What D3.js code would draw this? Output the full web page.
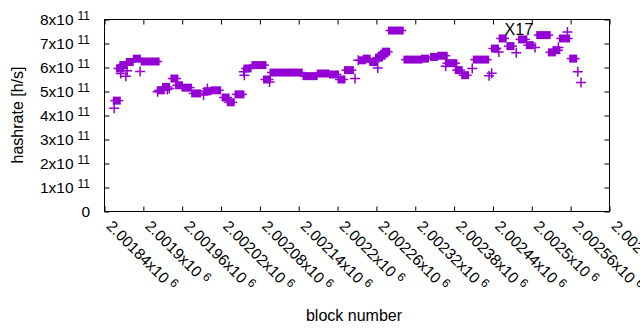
<!DOCTYPE html>
<html>
<head>
<meta charset="utf-8">
<script src="https://cdn.jsdelivr.net/npm/d3@7"></script>
<style>
  body { margin: 0; background: #fff; }
  svg { display: block; font-family: "Liberation Sans", Arial, sans-serif; }
  .axis path { display: none; }
  .axis line { stroke: #000; stroke-width: 1; }
</style>
</head>
<body>
<svg id="chart" width="640" height="330"></svg>
<script>
// --- data
// runs of blocks sharing the same hashrate estimate: [firstBlock, lastBlock, hashrate (x1e11 h/s)]
const squareRuns = [
  [2001859, 2001859, 4.62], [2001864, 2001864, 5.96], [2001869, 2001869, 6.10],
  [2001879, 2001879, 6.23], [2001890, 2001890, 6.37], [2001902, 2001919, 6.25],
  [2001927, 2001927, 5.05], [2001935, 2001935, 5.19], [2001948, 2001948, 5.54],
  [2001955, 2001955, 5.26], [2001965, 2001969, 5.16], [2001980, 2001983, 4.92],
  [2001999, 2001999, 5.01], [2002010, 2002014, 5.05], [2002027, 2002027, 4.75],
  [2002035, 2002035, 4.55], [2002047, 2002050, 4.88], [2002061, 2002061, 5.96],
  [2002073, 2002084, 6.10], [2002091, 2002091, 5.50], [2002101, 2002140, 5.79],
  [2002152, 2002163, 5.64], [2002174, 2002181, 5.75], [2002193, 2002196, 5.71],
  [2002206, 2002206, 5.50], [2002216, 2002219, 5.89], [2002238, 2002238, 6.30],
  [2002245, 2002245, 6.37], [2002255, 2002255, 6.23], [2002264, 2002264, 6.41],
  [2002268, 2002268, 6.49], [2002272, 2002272, 6.58], [2002275, 2002275, 6.66],
  [2002284, 2002296, 7.54], [2002308, 2002325, 6.33], [2002335, 2002335, 6.37],
  [2002349, 2002349, 6.44], [2002360, 2002364, 6.49], [2002372, 2002379, 6.18],
  [2002387, 2002387, 5.89], [2002397, 2002397, 5.68], [2002415, 2002428, 6.33],
  [2002443, 2002443, 6.79], [2002455, 2002455, 7.21], [2002467, 2002467, 6.89],
  [2002485, 2002487, 7.17], [2002497, 2002497, 6.93], [2002513, 2002523, 7.35],
  [2002531, 2002531, 6.63], [2002538, 2002538, 6.72], [2002548, 2002553, 7.21],
  [2002564, 2002564, 6.37]
]
// single blocks: [block, hashrate (x1e11 h/s)]
const plusPoints = [
  [2001855, 4.30], [2001865, 5.75], [2001873, 5.64], [2001875, 5.86], [2001895, 5.83],
  [2001922, 4.99], [2001937, 5.08], [2001940, 5.13], [2001993, 4.85], [2001999, 5.13],
  [2002055, 5.82], [2002056, 5.68], [2002095, 5.40], [2002227, 5.54], [2002232, 6.30],
  [2002262, 5.98], [2002367, 6.05], [2002408, 5.96], [2002434, 5.66], [2002438, 5.76],
  [2002449, 6.65], [2002476, 6.61], [2002505, 6.83], [2002541, 6.83], [2002555, 7.48],
  [2002571, 5.82], [2002576, 5.38]
]
const xTicks = [2001840, 2001900, 2001960, 2002020, 2002080, 2002140, 2002200,
                2002260, 2002320, 2002380, 2002440, 2002500, 2002560, 2002620]
const xTickLabels = ['2.00184', '2.0019', '2.00196', '2.00202', '2.00208', '2.00214', '2.0022',
                     '2.00226', '2.00232', '2.00238', '2.00244', '2.0025', '2.00256', '2.00262']
const yTicks = [0, 1, 2, 3, 4, 5, 6, 7, 8]
const annotation = {text: 'X17', block: 2002458, value: 7.35}

// --- layout
const plot = {left: 104.5, right: 609.5, top: 19.5, bottom: 211.5}
const color = '#9400D3'
const fontSize = 15.5

const svg = d3.select('#chart')

const x = d3.scaleLinear().domain([2001840, 2002620]).range([plot.left, plot.right])
const y = d3.scaleLinear().domain([0, 8]).range([plot.bottom, plot.top])

// ticks (gnuplot style: inward and mirrored)
svg.append('g').attr('class', 'axis')
    .attr('transform', `translate(0,${plot.bottom})`)
    .call(d3.axisBottom(x).tickValues(xTicks).tickSize(-5).tickSizeOuter(0).tickFormat(''))
svg.append('g').attr('class', 'axis')
    .attr('transform', `translate(0,${plot.top})`)
    .call(d3.axisTop(x).tickValues(xTicks).tickSize(-5).tickSizeOuter(0).tickFormat(''))
svg.append('g').attr('class', 'axis')
    .attr('transform', `translate(${plot.left},0)`)
    .call(d3.axisLeft(y).tickValues(yTicks).tickSize(-5).tickSizeOuter(0).tickFormat(''))
svg.append('g').attr('class', 'axis')
    .attr('transform', `translate(${plot.right},0)`)
    .call(d3.axisRight(y).tickValues(yTicks).tickSize(-5).tickSizeOuter(0).tickFormat(''))

svg.append('rect')
    .attr('x', plot.left).attr('y', plot.top)
    .attr('width', plot.right - plot.left).attr('height', plot.bottom - plot.top)
    .attr('fill', 'none').attr('stroke', '#000').attr('stroke-width', 1)

// y tick labels
const yLab = svg.append('g').selectAll('text').data(yTicks).join('text')
    .attr('x', 90).attr('y', d => y(d) + 5.5)
    .attr('text-anchor', 'end').attr('font-size', fontSize)
yLab.each(function(d) {
    const t = d3.select(this)
    if (d === 0) { t.text('0'); return }
    t.append('tspan').text(`${d}x10`)
    t.append('tspan').attr('font-size', 12).attr('dx', 4).attr('dy', -5).text('11')
})

// x tick labels, rotated
svg.append('g').selectAll('text').data(xTicks).join('text')
    .attr('transform', d => `translate(${x(d) + 1},227) rotate(45)`)
    .attr('font-size', fontSize)
    .each(function(d, i) {
        const t = d3.select(this)
        t.append('tspan').text(`${xTickLabels[i]}x10`)
        t.append('tspan').attr('font-size', 12).attr('dx', 4).attr('dy', -5).text('6')
    })

// axis titles
svg.append('text')
    .attr('transform', 'translate(23,115) rotate(-90)')
    .attr('text-anchor', 'middle').attr('font-size', 16)
    .text('hashrate [h/s]')
svg.append('text')
    .attr('x', 354).attr('y', 321)
    .attr('text-anchor', 'middle').attr('font-size', 16)
    .text('block number')

// --- marks
const marks = svg.append('g')
const sq = 4     // half square
const arm = 6.5  // half plus arm

const runG = marks.selectAll('g.run').data(squareRuns).join('g').attr('class', 'run')
runG.append('rect')
    .attr('x', d => x(d[0]) - sq).attr('y', d => y(d[2]) - sq)
    .attr('width', d => x(d[1]) - x(d[0]) + 2 * sq).attr('height', 2 * sq)
    .attr('fill', color)
runG.append('line')
    .attr('x1', d => x(d[0]) - arm).attr('x2', d => x(d[1]) + arm)
    .attr('y1', d => y(d[2])).attr('y2', d => y(d[2]))
    .attr('stroke', color).attr('stroke-width', 1.5)

marks.selectAll('path.plus').data(plusPoints).join('path').attr('class', 'plus')
    .attr('d', d => {
        const px = x(d[0]), py = y(d[1]), s = 5
        return `M${px - s},${py}H${px + s}M${px},${py - s}V${py + s}`
    })
    .attr('stroke', color).attr('stroke-width', 1.5).attr('fill', 'none')

// label
svg.append('text')
    .attr('x', x(annotation.block)).attr('y', y(annotation.value))
    .attr('font-size', 16)
    .text(annotation.text)
</script>
</body>
</html>
